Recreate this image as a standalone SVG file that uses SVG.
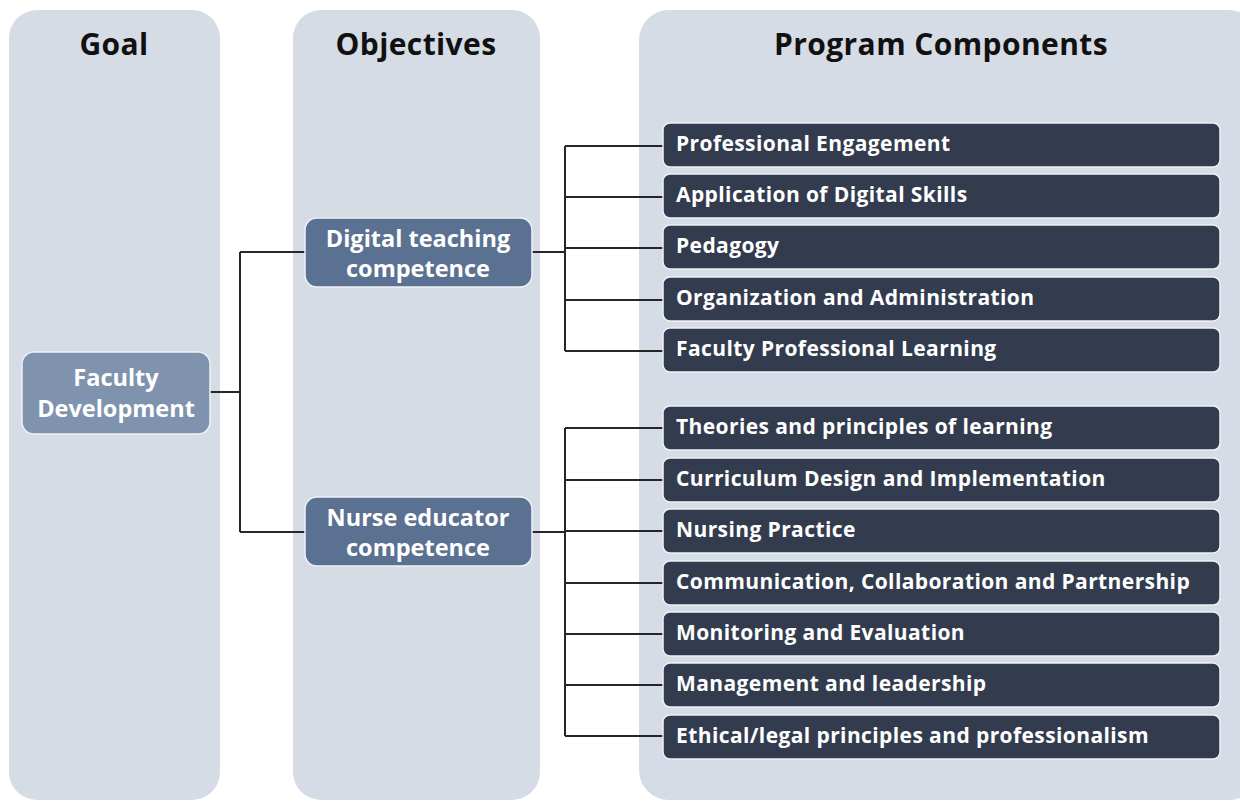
<svg xmlns="http://www.w3.org/2000/svg" width="1240" height="802" viewBox="0 0 1240 802">
  <style>
    .col { fill: #d6dce5; }
    .title { font-family: "Open Sans", "Noto Sans", sans-serif; font-weight: 700; font-size: 30px; letter-spacing: 0.4px; fill: #111; text-anchor: middle; }
    .goal { fill: #7f93ae; stroke: #eef1f5; stroke-width: 1.5; }
    .obj { fill: #5b7191; stroke: #eef1f5; stroke-width: 1.5; }
    .comp { fill: #333c4e; stroke: #eef1f5; stroke-width: 1.5; }
    .lbl { font-family: "Open Sans", "Noto Sans", sans-serif; font-weight: 700; fill: #ffffff; }
    .mid { text-anchor: middle; font-size: 23.5px; }
    .item { font-size: 21px; letter-spacing: 0.4px; }
    .wire { fill: none; stroke: #262626; stroke-width: 2; }
  </style>

  <!-- column panels -->
  <g id="columns">
    <rect class="col" x="9" y="10" width="211" height="790" rx="28"/>
    <rect class="col" x="293" y="10" width="247" height="790" rx="28"/>
    <rect class="col" x="639" y="10" width="620" height="790" rx="30"/>
    <text class="title" x="114" y="55">Goal</text>
    <text class="title" x="416" y="55">Objectives</text>
    <text class="title" x="941" y="55">Program Components</text>
  </g>

  <!-- connectors -->
  <g id="connectors" class="wire">
    <path d="M210 392 H240 M240 252 V532 M240 252 H305 M240 532 H305"/>
    <path d="M532 252 H565 M565 146 V351 M565 146 H663 M565 197 H663 M565 248 H663 M565 300 H663 M565 351 H663"/>
    <path d="M532 532 H565 M565 428 V736 M565 428 H663 M565 480 H663 M565 531 H663 M565 583 H663 M565 634 H663 M565 685 H663 M565 736 H663"/>
  </g>

  <g id="goal-faculty-development">
    <rect class="goal" x="22" y="352" width="188" height="82" rx="12"/>
    <text class="lbl mid" x="116" y="386">Faculty</text>
    <text class="lbl mid" x="116" y="417">Development</text>
  </g>

  <g id="obj-digital">
    <rect class="obj" x="305" y="218" width="227" height="69" rx="12"/>
    <text class="lbl mid" x="418" y="247">Digital teaching</text>
    <text class="lbl mid" x="418" y="277">competence</text>
  </g>

  <g id="obj-nurse">
    <rect class="obj" x="305" y="497" width="227" height="69" rx="12"/>
    <text class="lbl mid" x="418" y="526">Nurse educator</text>
    <text class="lbl mid" x="418" y="556">competence</text>
  </g>

  <g id="c1"><rect class="comp" x="663" y="123" width="557" height="44" rx="7"/><text class="lbl item" x="676" y="151">Professional Engagement</text></g>
  <g id="c2"><rect class="comp" x="663" y="174" width="557" height="44" rx="7"/><text class="lbl item" x="676" y="202">Application of Digital Skills</text></g>
  <g id="c3"><rect class="comp" x="663" y="225" width="557" height="44" rx="7"/><text class="lbl item" x="676" y="253">Pedagogy</text></g>
  <g id="c4"><rect class="comp" x="663" y="277" width="557" height="44" rx="7"/><text class="lbl item" x="676" y="305">Organization and Administration</text></g>
  <g id="c5"><rect class="comp" x="663" y="328" width="557" height="44" rx="7"/><text class="lbl item" x="676" y="356">Faculty Professional Learning</text></g>

  <g id="c6"><rect class="comp" x="663" y="406" width="557" height="44" rx="7"/><text class="lbl item" x="676" y="434">Theories and principles of learning</text></g>
  <g id="c7"><rect class="comp" x="663" y="458" width="557" height="44" rx="7"/><text class="lbl item" x="676" y="486">Curriculum Design and Implementation</text></g>
  <g id="c8"><rect class="comp" x="663" y="509" width="557" height="44" rx="7"/><text class="lbl item" x="676" y="537">Nursing Practice</text></g>
  <g id="c9"><rect class="comp" x="663" y="561" width="557" height="44" rx="7"/><text class="lbl item" x="676" y="589">Communication, Collaboration and Partnership</text></g>
  <g id="c10"><rect class="comp" x="663" y="612" width="557" height="44" rx="7"/><text class="lbl item" x="676" y="640">Monitoring and Evaluation</text></g>
  <g id="c11"><rect class="comp" x="663" y="663" width="557" height="44" rx="7"/><text class="lbl item" x="676" y="691">Management and leadership</text></g>
  <g id="c12"><rect class="comp" x="663" y="715" width="557" height="44" rx="7"/><text class="lbl item" x="676" y="743">Ethical/legal principles and professionalism</text></g>
</svg>
